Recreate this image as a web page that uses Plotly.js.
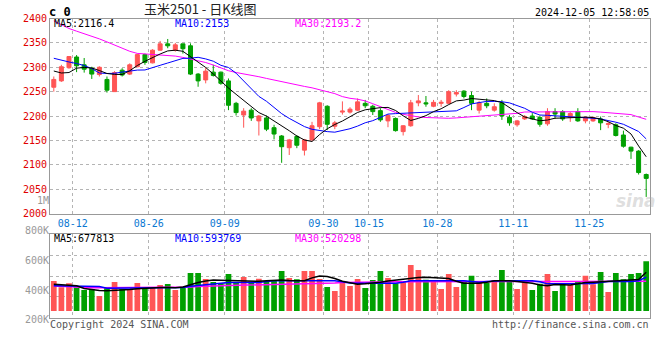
<!DOCTYPE html>
<html><head><meta charset="utf-8">
<script src="https://cdn.plot.ly/plotly-3.0.1.min.js"></script>
<style>html,body{margin:0;padding:0;background:#fff}#chart{width:660px;height:360px}</style>
</head><body><div id="chart"></div>
<script>
const DATES = ['08-08','08-09','08-12','08-13','08-14','08-15','08-16','08-19','08-20','08-21','08-22','08-23',
'08-26','08-27','08-28','08-29','08-30','09-02','09-03','09-04','09-05','09-06','09-09','09-10','09-11','09-12','09-13',
'09-18','09-19','09-20','09-23','09-24','09-25','09-26','09-27','09-30','10-08','10-09','10-10','10-11',
'10-14','10-15','10-16','10-17','10-18','10-21','10-22','10-23','10-24','10-25','10-28','10-29','10-30','10-31',
'11-01','11-04','11-05','11-06','11-07','11-08','11-11','11-12','11-13','11-14','11-15','11-18','11-19','11-20','11-21','11-22',
'11-25','11-26','11-27','11-28','11-29','12-02','12-03','12-04','12-05'];
const OPEN = [2259,2272,2299,2321,2305,2298,2285,2275,2250,2294,2286,2301,2326,2309,2335,2348,2335,2348,2344,2286,
2274,2290,2290,2272,2226,2202,2212,2190,2196,2176,2159,2135,2158,2130,2151,2178,2220,2179,2208,2208,
2212,2226,2220,2211,2190,2195,2168,2180,2227,2227,2220,2226,2226,2245,2251,2242,2212,2226,2212,2227,
2197,2182,2194,2200,2197,2184,2209,2209,2197,2209,2190,2190,2194,2183,2182,2161,2136,2128,2080];
const HIGH = [2281,2305,2322,2325,2319,2301,2302,2281,2292,2298,2308,2328,2328,2337,2354,2358,2350,2348,2349,2288,
2299,2305,2291,2277,2229,2216,2216,2202,2201,2182,2161,2153,2161,2153,2188,2229,2222,2190,2230,2218,
2236,2233,2223,2216,2204,2197,2181,2233,2243,2241,2233,2233,2253,2253,2253,2250,2231,2236,2226,2233,
2202,2192,2202,2206,2201,2216,2216,2212,2208,2216,2199,2199,2199,2188,2185,2170,2137,2130,2082];
const LOW = [2250,2270,2297,2290,2289,2276,2281,2248,2250,2281,2284,2300,2305,2308,2334,2339,2332,2328,2284,2260,
2267,2281,2264,2212,2201,2176,2190,2160,2169,2152,2104,2120,2134,2119,2149,2173,2171,2173,2203,2205,
2210,2216,2202,2188,2177,2168,2160,2178,2220,2219,2218,2219,2225,2240,2236,2212,2205,2216,2209,2192,
2180,2178,2192,2192,2178,2180,2194,2190,2188,2188,2185,2188,2171,2175,2158,2135,2112,2080,2034];
const CLOSE = [2275,2301,2322,2303,2296,2286,2300,2253,2289,2284,2305,2326,2310,2335,2348,2344,2346,2338,2286,2272,
2292,2283,2267,2222,2207,2210,2196,2200,2173,2163,2137,2151,2140,2151,2180,2227,2183,2186,2210,2214,
2229,2221,2209,2192,2201,2170,2180,2227,2231,2225,2228,2228,2250,2248,2240,2226,2227,2221,2219,2200,
2186,2190,2199,2194,2183,2209,2204,2194,2205,2190,2197,2197,2186,2184,2160,2138,2128,2084,2072];
const MA5 = [2292.3,2288.2,2289.2,2298.1,2299.7,2298.4,2293.3,2287.2,2285.3,2285.1,2292.9,2303.6,2312.2,2320,2327.2,2333.5,2335,2332.7,2321.4,2310.6,
2299.5,2286.1,2271.4,2257.4,2244.5,2231.4,2218.4,2207,2199.8,2190.2,2180.5,2169.8,2159,2150.8,2147.7,2162,2173.7,2182.6,2189.7,2197.9,
2207.2,2212.7,2215.2,2217.2,2217.6,2211.3,2200.4,2190.8,2195.1,2200.8,2209,2214.8,2223.4,2231,2232.6,2235.9,2234.4,2232.8,2231.6,2227.5,
2216.6,2207,2198,2193.4,2190.2,2191.8,2195.5,2195.9,2196.5,2197.1,2197.7,2196.7,2193.9,2188.3,2180.5,2175,2163.1,2138.5,2116.4];
const MA10 = [2318.4,2314.2,2310.8,2307.7,2303.6,2297.2,2288.2,2287.2,2287.6,2290.1,2292.1,2294.2,2294.4,2298.5,2304,2308.7,2313.4,2318.2,2318.6,2320.4,
2317.1,2312.4,2304,2299.5,2287.8,2272.2,2256.4,2240.2,2230.2,2218,2204.9,2195.1,2186,2178.3,2172.7,2169.8,2168,2166.8,2169.8,2173.9,
2179.3,2186.1,2190.4,2197.5,2203.9,2204.9,2205.5,2206.1,2206.8,2207.4,2207.8,2208.4,2209,2210.6,2217.4,2224.8,2227.5,2229.9,2229.9,2229.3,
2226.9,2221.1,2215.8,2207.6,2202,2201.4,2200.6,2200,2198.8,2197.5,2196.3,2195.3,2193.9,2191,2187.3,2183,2176.4,2168.2,2153];
const MA30 = [2395.1,2387.3,2379.5,2374,2369,2363.7,2358.2,2352,2345.6,2339.5,2332.7,2328.4,2327.6,2326.6,2325.3,2324.1,2322.9,2320.2,2316.9,2312.8,
2309.7,2304.6,2298.9,2292.9,2289.2,2286.6,2283.7,2280.6,2277.1,2273.6,2270.1,2266.9,2264,2260.7,2257.8,2254.1,2250.3,2245.9,2239.8,2236.3,
2234.4,2231,2225.2,2219.5,2213.6,2207.4,2203.4,2200.2,2198.1,2196.9,2196.1,2195.7,2195.3,2196.1,2197.3,2198.8,2200,2200.8,2201.9,2202.9,
2203.7,2205.5,2208.2,2208.4,2208.6,2209,2209,2209,2209,2209,2209,2209,2208,2206.8,2205.7,2204.5,2202.9,2197.9,2193.2];
// volumes in thousands of lots
const VOLUME_K = [525,414,484,414,368,385,263,408,508,385,368,490,397,414,455,473,368,408,665,665,
560,508,484,648,502,595,490,566,513,543,700,578,554,700,700,560,420,350,525,438,
560,403,543,700,578,484,502,805,718,548,525,385,648,420,531,618,508,490,543,718,
508,385,525,368,478,648,350,478,455,525,618,467,683,333,665,554,648,665,870];
const VOL_MA5_K = [468,460,455,440,395,375,358,355,360,365,375,390,400,408,410,410,408,420,460,500,
525,542,540,535,530,520,513,520,530,540,542,535,528,530,580,612,605,570,520,495,
470,475,484,505,525,540,565,583,586,589,585,578,570,520,484,484,485,505,530,530,
530,515,500,485,455,440,465,462,456,475,498,505,512,520,530,540,545,552,677.813];
const VOL_MA10_K = [440,440,440,440,440,440,430,400,400,400,400,400,400,410,410,410,410,410,435,450,
465,480,490,500,500,500,500,500,515,530,530,530,530,530,535,540,535,530,510,490,
484,484,484,484,484,484,505,530,530,530,530,530,530,530,530,515,505,515,528,528,
528,528,528,528,510,475,475,475,475,475,475,480,500,515,515,515,515,530,593.769];
const VOL_MA30_K = [437,430,422,415,410,408,408,408,408,408,408,408,408,408,408,408,408,408,418,428,
437,440,443,446,449,452,455,455,456,458,460,463,466,470,475,480,486,492,500,503,
505,506,507,508,509,510,510,511,512,513,513,513,514,514,515,515,515,516,516,517,
517,517,517,518,518,518,518,518,518,518,518,519,519,519,519,519,520,520,520.298];
const DATE_TICKS = ['08-12','08-26','09-09','09-30','10-15','10-28','11-11','11-25'];
const VOL_TICK_K = [200,400,600,800,1000];
const VOL_TICK_TEXT = ['200K','400K','600K','800K','1M'];
const TITLE = '玉米2501 - 日K线图';
const CODE = 'c 0';
const STAMP = '2024-12-05 12:58:05';
const COPYRIGHT = 'Copyright 2024 SINA.COM';
const URL_TEXT = 'http://finance.sina.com.cn';

const RED = '#ff5555', GREEN = '#00a000', BLUE = '#0000ff', MAGENTA = '#ff00ff';
const MONO = 'DejaVu Sans Mono, monospace';
const GRID = '#b4b4b4', FRAME = '#999999';
const n = DATES.length;
const x = DATES.map((d, i) => i);
const tickvals = DATE_TICKS.map(d => DATES.indexOf(d) + 0.5);
const volColors = CLOSE.map((c, i) => c >= OPEN[i] ? RED : GREEN);
const last = a => a[a.length - 1];

const line = (y, color, w, xa, ya) => ({type:'scatter', mode:'lines', x, y, xaxis:xa, yaxis:ya,
  line:{color, width:w}, hoverinfo:'skip', showlegend:false});

const traces = [
  {type:'candlestick', x, open:OPEN, high:HIGH, low:LOW, close:CLOSE, xaxis:'x', yaxis:'y',
   increasing:{line:{color:RED, width:1}, fillcolor:RED},
   decreasing:{line:{color:GREEN, width:1}, fillcolor:GREEN},
   whiskerwidth:0, hoverinfo:'skip', showlegend:false},
  line(MA30, MAGENTA, 1, 'x', 'y'),
  line(MA10, BLUE, 1, 'x', 'y'),
  line(MA5, '#000000', 1, 'x', 'y'),
  {type:'bar', x, y:VOLUME_K, xaxis:'x2', yaxis:'y2', marker:{color:volColors, line:{width:0}},
   hoverinfo:'skip', showlegend:false},
  line(VOL_MA30_K, MAGENTA, 1.5, 'x2', 'y2'),
  line(VOL_MA10_K, BLUE, 1.5, 'x2', 'y2'),
  line(VOL_MA5_K, '#000000', 1.5, 'x2', 'y2'),
  {type:'scatter', mode:'markers', x:[], y:[], xaxis:'x3', yaxis:'y3', hoverinfo:'skip', showlegend:false}
];

const frameAxis = {showline:true, linecolor:FRAME, linewidth:1, mirror:true, zeroline:false,
  showgrid:true, gridcolor:GRID, griddash:'dot', gridwidth:1, ticks:'', fixedrange:true};

const ann = (xp, yp, text, color, anchor, extra) => Object.assign({xref:'paper', yref:'paper', x:xp, y:yp,
  text, showarrow:false, xanchor:anchor, yanchor:'middle', borderpad:0,
  font:{family:MONO, size:10, color}}, extra || {});

const px = X => (X - 50) / 600, py = Y => 1 - Y / 360;

const layout = {
  width:660, height:360, margin:{l:50, r:10, t:0, b:0},
  paper_bgcolor:'#ffffff', plot_bgcolor:'rgba(0,0,0,0)', showlegend:false,
  boxgap:0.25, bargap:0.25, dragmode:false,
  font:{family:MONO, size:10, color:'#000'},
  xaxis:Object.assign({}, frameAxis, {domain:[0,1], anchor:'y', range:[-0.5, n - 0.5],
    rangeslider:{visible:false}, tickmode:'array', tickvals, ticktext:DATE_TICKS,
    tickfont:{family:MONO, size:10, color:'#0a78d2'}}),
  yaxis:Object.assign({}, frameAxis, {domain:[py(213.5), py(18.5)], anchor:'x', range:[2000, 2400],
    tick0:2000, dtick:50, tickfont:{family:MONO, size:10, color:'#e00000'}}),
  xaxis2:Object.assign({}, frameAxis, {domain:[0,1], anchor:'y2', matches:'x', range:[-0.5, n - 0.5],
    tickmode:'array', tickvals, showticklabels:false}),
  yaxis2:Object.assign({}, frameAxis, {domain:[py(317.7), py(234.3)], anchor:'x2',
    range:[-117.25, 1342.25], tick0:-117.25, dtick:364.875, showticklabels:false}),
  xaxis3:{domain:[0,1], anchor:'y3', visible:false, range:[0,1], fixedrange:true},
  yaxis3:{domain:[0,1], anchor:'x3', range:[-68.3, 2346], tickmode:'array', tickvals:VOL_TICK_K,
    ticktext:VOL_TICK_TEXT, tickfont:{family:MONO, size:10, color:'#999999'}, showgrid:false,
    zeroline:false, showline:false, ticks:'', fixedrange:true},
  annotations:[
    ann(px(48), py(12), CODE, '#000', 'left', {font:{family:MONO, size:12, color:'#000', weight:'bold'}}),
    ann(px(200.5), py(8.8), TITLE, '#222', 'center', {font:{family:'Noto Sans CJK SC', size:13, color:'#222'}}),
    ann(px(650), py(12.3), STAMP, '#000', 'right'),
    ann(px(53), py(24), 'MA5:' + last(MA5), '#000', 'left'),
    ann(px(174), py(24), 'MA10:' + last(MA10), BLUE, 'left'),
    ann(px(294), py(24), 'MA30:' + last(MA30), MAGENTA, 'left'),
    ann(px(53), py(238.5), 'MA5:' + Math.round(last(VOL_MA5_K) * 1000), '#000', 'left'),
    ann(px(174), py(238.5), 'MA10:' + Math.round(last(VOL_MA10_K) * 1000), BLUE, 'left'),
    ann(px(294), py(238.5), 'MA30:' + Math.round(last(VOL_MA30_K) * 1000), MAGENTA, 'left'),
    ann(px(49), py(324), COPYRIGHT, '#555', 'left'),
    ann(px(650), py(324), URL_TEXT, '#555', 'right'),
    ann(px(636), py(201), 'sina', 'rgba(170,170,170,0.4)', 'center',
      {font:{family:'DejaVu Sans', size:17, color:'rgba(170,170,170,0.4)', weight:'bold', style:'italic'}})
  ]
};

Plotly.newPlot('chart', traces, layout, {staticPlot:true, displayModeBar:false});
</script>
</body></html>
